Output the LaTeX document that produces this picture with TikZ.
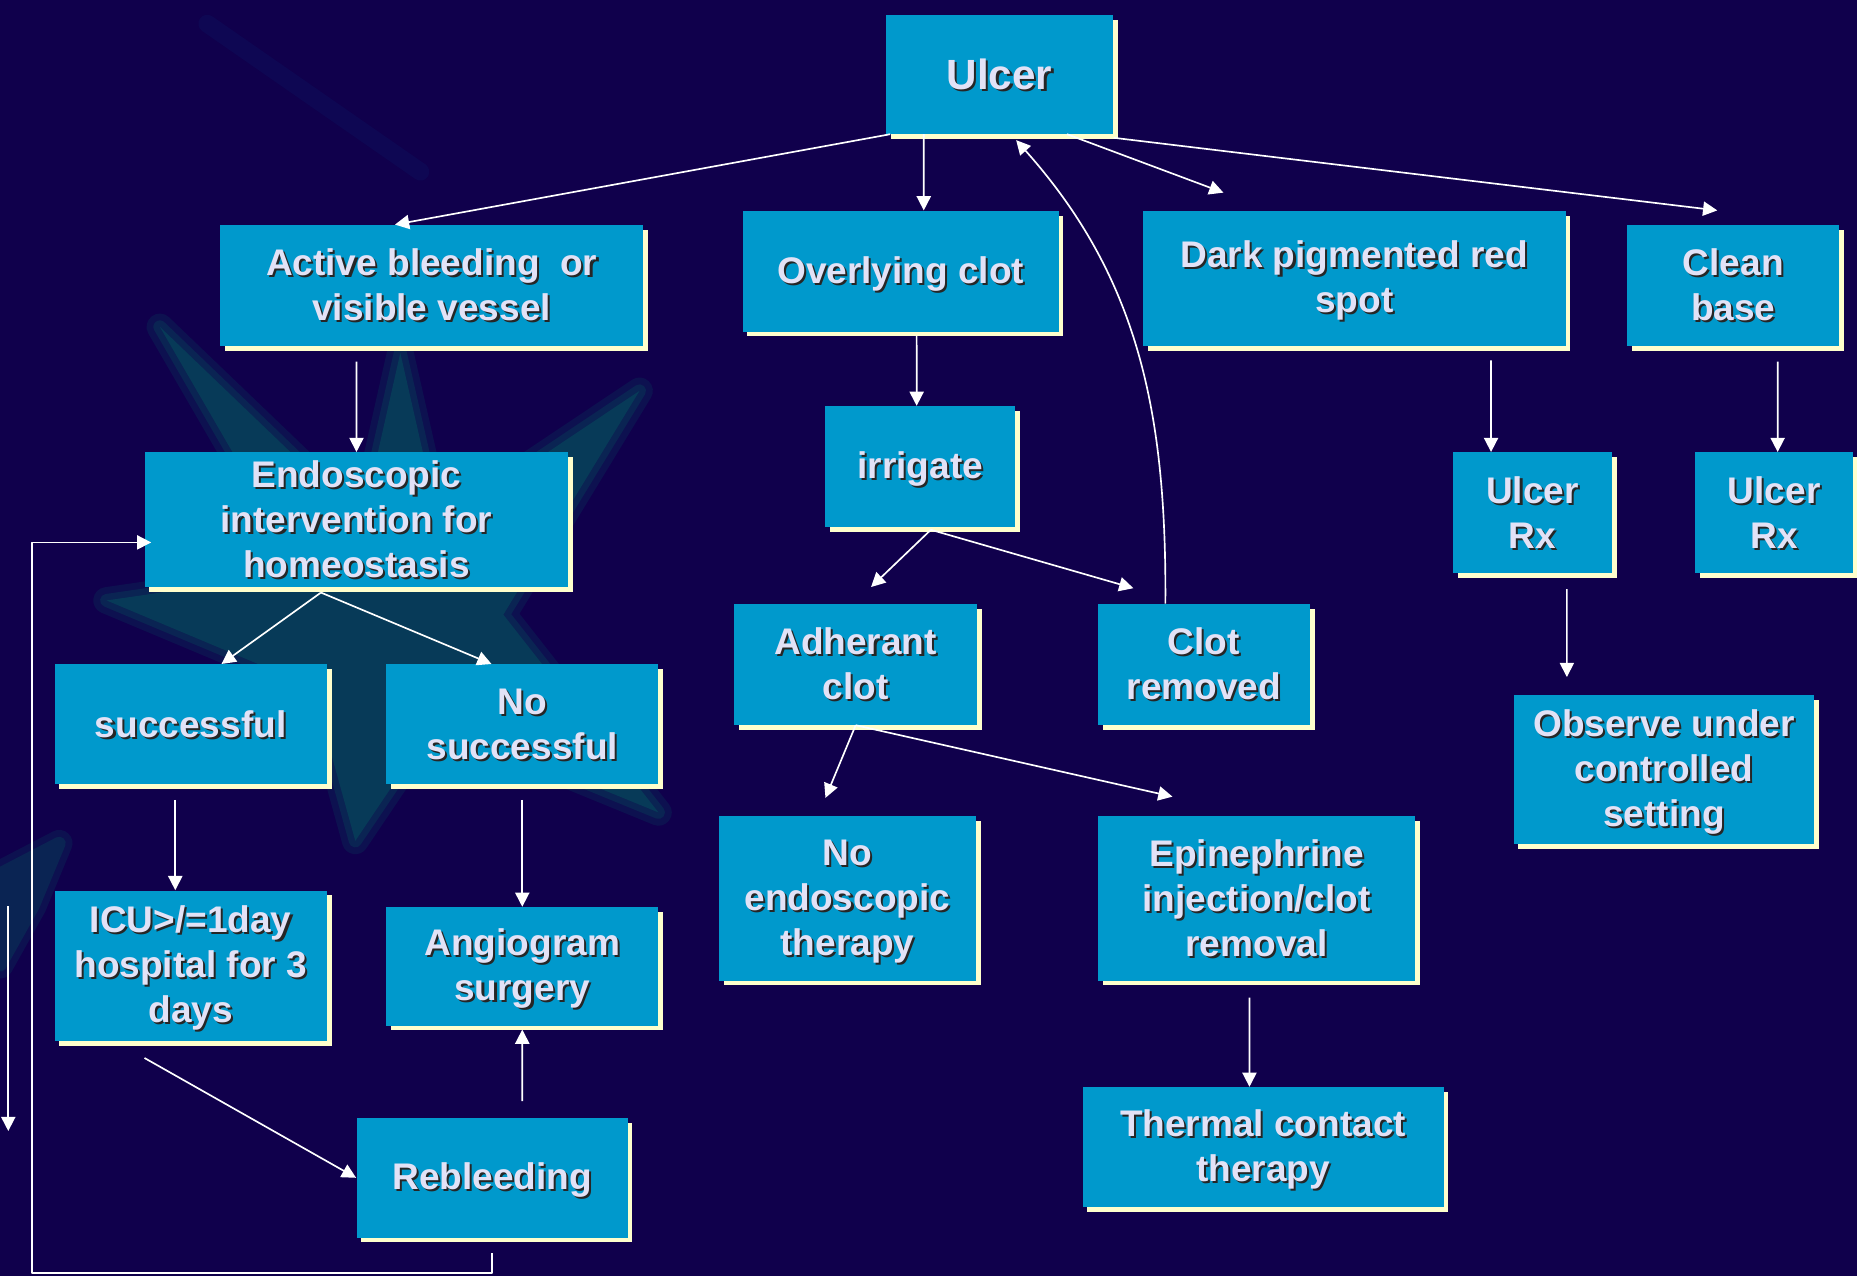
\documentclass[tikz,border=0pt]{standalone}
\usepackage{fontspec}
\setmainfont{Liberation Sans}
\usetikzlibrary{arrows.meta,shadows}
\definecolor{slidebg}{HTML}{10004C}
\definecolor{boxblue}{HTML}{0099CC}
\definecolor{boxcream}{HTML}{FFFFCC}
\definecolor{lavtext}{HTML}{E2E2F6}
\definecolor{startea}{HTML}{073A58}
\definecolor{streakblue}{HTML}{0D0B58}
\newcommand\shd[1]{\rule[-0.212em]{0pt}{1.12em}\makebox[0pt][l]{\hspace{1pt}\raisebox{-1pt}{\color{black!85}#1}}#1}
\newcommand\flowfont{\bfseries\fontsize{17.8}{21.6}\selectfont\lineskiplimit -100pt\relax}
\tikzset{
  flowbox/.style={rectangle, fill=boxblue, text=lavtext, align=center, inner sep=0pt,
    minimum height=2.04cm, font=\flowfont,
    drop shadow={shadow xshift=0.08cm, shadow yshift=-0.08cm, opacity=1, fill=boxcream}},
  flowarrow/.style={draw=white, line width=0.8pt, ->},
  starpart/.style={line width=#1, line join=round}
}
\begin{document}
\begin{tikzpicture}[x=0.02cm,y=-0.02cm,line join=round,>={Triangle[length=0.24cm,width=0.24cm]}]
  \fill[slidebg] (0,0) rectangle (1568,1077);
  \useasboundingbox (0,0) rectangle (1568,1077);
  \foreach \w/\mix in {0.45cm/30,0.22cm/62}
    \filldraw[starpart=\w, fill=startea!\mix!slidebg, draw=startea!\mix!slidebg] (135,276) -- (306,440) -- (338,298) -- (371,443) -- (540,330) -- (425,519) -- (556,686) -- (368,609) -- (300,710) -- (264,580) -- (90,507) -- (255,483) -- cycle;
  \fill[startea] (135,276) -- (306,440) -- (338,298) -- (371,443) -- (540,330) -- (425,519) -- (556,686) -- (368,609) -- (300,710) -- (264,580) -- (90,507) -- (255,483) -- cycle;
  \foreach \w/\mix in {0.45cm/30,0.22cm/62}
    \filldraw[starpart=\w, fill=startea!\mix!slidebg, draw=startea!\mix!slidebg] (0,738) -- (50,712) -- (28,765) -- (0,815) -- cycle;
  \draw[streakblue!60!slidebg, line width=0.3cm, line cap=round] (175,20) -- (355,145);

  \node[flowbox, font=\bfseries\fontsize{20.3}{24}\selectfont, minimum width=3.84cm, minimum height=2cm] (ulcer) at (844,63) {\shd{Ulcer}};
  \node[flowbox, minimum width=7.14cm] (active) at (364.5,241) {\shd{Active bleeding~ or}\\\shd{visible vessel}};
  \node[flowbox, minimum width=5.34cm] (overlying) at (760.5,229) {\shd{Overlying clot}};
  \node[flowbox, minimum width=7.14cm, minimum height=2.28cm] (darkspot) at (1143.5,235) {\shd{Dark pigmented red}\\\shd{spot}};
  \node[flowbox, minimum width=3.58cm] (cleanbase) at (1463.5,241) {\shd{Clean}\\\shd{base}};
  \node[flowbox, minimum width=7.16cm, minimum height=2.28cm] (endo) at (301,439) {\shd{Endoscopic}\\\shd{intervention for}\\\shd{homeostasis}};
  \node[flowbox, minimum width=3.2cm] (irrigate) at (777,394) {\shd{irrigate}};
  \node[flowbox, minimum width=2.68cm] (rxdark) at (1294,433) {\shd{Ulcer}\\\shd{Rx}};
  \node[flowbox, minimum width=2.68cm] (rxclean) at (1498,433) {\shd{Ulcer}\\\shd{Rx}};
  \node[flowbox, minimum width=4.6cm, minimum height=2.02cm] (success) at (161,611.5) {\shd{successful}};
  \node[flowbox, minimum width=4.6cm, minimum height=2.02cm] (nosuccess) at (441,611.5) {\shd{No}\\\shd{successful}};
  \node[flowbox, minimum width=4.1cm] (adherant) at (722.5,561) {\shd{Adherant}\\\shd{clot}};
  \node[flowbox, minimum width=3.58cm] (clotrem) at (1016.5,561) {\shd{Clot}\\\shd{removed}};
  \node[flowbox, minimum width=5.08cm, minimum height=2.52cm] (observe) at (1405,650) {\shd{Observe under}\\\shd{controlled}\\\shd{setting}};
  \node[flowbox, minimum width=4.6cm, minimum height=2.54cm] (icu) at (161,815.5) {\shd{ICU>/=1day}\\\shd{hospital for 3}\\\shd{days}};
  \node[flowbox, minimum width=4.6cm, minimum height=2cm] (angio) at (441,816) {\shd{Angiogram}\\\shd{surgery}};
  \node[flowbox, minimum width=4.34cm, minimum height=2.78cm] (noendo) at (715.5,758.5) {\shd{No}\\\shd{endoscopic}\\\shd{therapy}};
  \node[flowbox, minimum width=5.36cm, minimum height=2.78cm] (epi) at (1061,758.5) {\shd{Epinephrine}\\\shd{injection/clot}\\\shd{removal}};
  \node[flowbox, minimum width=6.1cm, minimum height=2.02cm] (thermal) at (1066.5,968.5) {\shd{Thermal contact}\\\shd{therapy}};
  \node[flowbox, minimum width=4.58cm, minimum height=2.02cm] (rebleed) at (415.5,994.5) {\shd{Rebleeding}};

  \coordinate (loopcorner) at (27,1075);
  \coordinate (strayTop) at (7,765);
  \coordinate (strayEnd) at (7,955);

  \draw[flowarrow] ([xshift=0.08cm]ulcer.south west) -- ([xshift=-0.62cm]active.north);
  \draw[flowarrow] ([xshift=-1.28cm]ulcer.south) -- ([xshift=0.39cm]overlying.north);
  \draw[flowarrow] ([xshift=-0.65cm]clotrem.north) .. controls (985,350) and (962,235) .. ([xshift=0.28cm,yshift=-0.1cm]ulcer.south);
  \draw[flowarrow] ([xshift=1.14cm]ulcer.south) -- ([xshift=-2.21cm,yshift=0.3cm]darkspot.north);
  \draw[flowarrow] ([yshift=-0.06cm]ulcer.south east) -- ([xshift=-0.27cm,yshift=0.24cm]cleanbase.north);
  \draw[flowarrow] ([xshift=-1.27cm,yshift=-0.26cm]active.south) -- (endo.north);
  \draw[flowarrow] ([xshift=-0.6cm,yshift=-0.08cm]endo.south) -- ([xshift=0.52cm]success.north);
  \draw[flowarrow] ([xshift=-0.6cm,yshift=-0.08cm]endo.south) -- ([xshift=-0.52cm]nosuccess.north);
  \draw[flowarrow] ([xshift=-0.26cm,yshift=-0.26cm]success.south) -- ([xshift=-0.26cm]icu.north);
  \draw[flowarrow] ([yshift=-0.26cm]nosuccess.south) -- (angio.north);
  \draw[flowarrow] ([xshift=-0.78cm,yshift=-0.28cm]icu.south) -- (rebleed.west);
  \draw[flowarrow] ([xshift=0.51cm,yshift=0.28cm]rebleed.north) -- ([yshift=-0.06cm]angio.south);
  \draw[flowarrow] ([yshift=-0.26cm]rebleed.south) |- (loopcorner) |- ([xshift=0.12cm,yshift=-0.38cm]endo.west);
  \draw[flowarrow] (strayTop) -- (strayEnd);
  \draw[flowarrow] ([xshift=0.27cm,yshift=-0.06cm]overlying.south) -- ([xshift=-0.06cm]irrigate.north);
  \draw[flowarrow] ([xshift=0.18cm,yshift=-0.04cm]irrigate.south) -- ([xshift=0.26cm,yshift=0.28cm]adherant.north);
  \draw[flowarrow] ([xshift=0.18cm,yshift=-0.04cm]irrigate.south) -- ([xshift=-1.19cm,yshift=0.26cm]clotrem.north);
  \draw[flowarrow] (adherant.south) -- ([xshift=-0.37cm,yshift=0.3cm]noendo.north);
  \draw[flowarrow] (adherant.south) -- ([xshift=-1.42cm,yshift=0.32cm]epi.north);
  \draw[flowarrow] ([xshift=-0.12cm,yshift=-0.28cm]epi.south) -- ([xshift=-0.23cm]thermal.north);
  \draw[flowarrow] ([xshift=2.31cm,yshift=-0.24cm]darkspot.south) -- ([xshift=-0.7cm]rxdark.north);
  \draw[flowarrow] ([xshift=0.75cm,yshift=-0.26cm]cleanbase.south) -- ([xshift=0.06cm]rxclean.north);
  \draw[flowarrow] ([xshift=0.58cm,yshift=-0.26cm]rxdark.south) -- ([xshift=-1.64cm,yshift=0.3cm]observe.north);
\end{tikzpicture}
\end{document}
